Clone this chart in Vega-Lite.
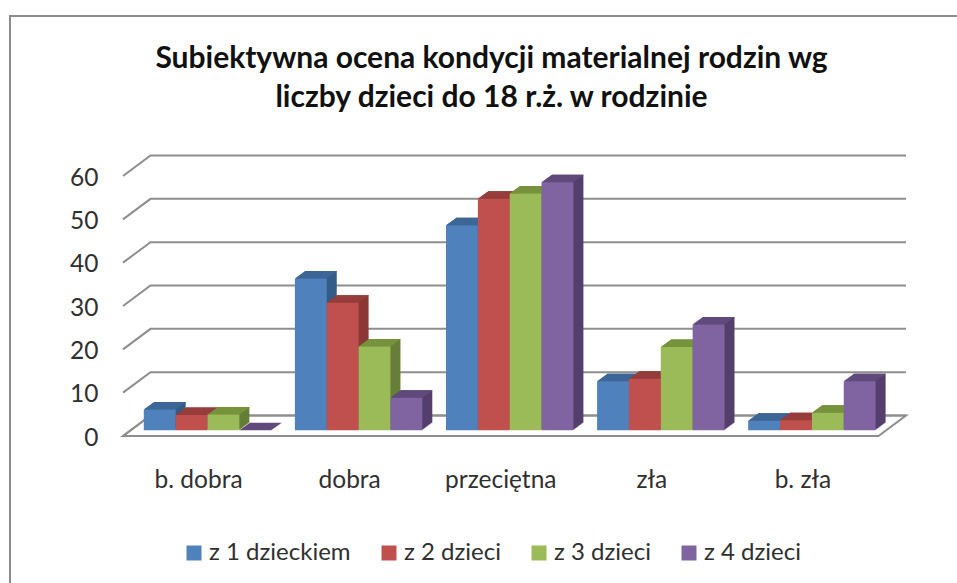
{"$schema":"https://vega.github.io/schema/vega-lite/v6.json","width":957,"height":577,"autosize":{"type":"none"},"padding":{"left":10,"top":16,"right":-10,"bottom":-10},"background":"white","config":{"view":{"stroke":"#8c8c8c","strokeWidth":2},"font":"Lato"},"title":{"text":["Subiektywna ocena kondycji materialnej rodzin wg","liczby dzieci do 18 r.ż. w rodzinie"],"font":"Lato","fontSize":30,"fontWeight":"bold","color":"#111111","lineHeight":39,"anchor":"middle","dx":3,"offset":-97},"datasets":{"ticks":[{"tick":0},{"tick":10},{"tick":20},{"tick":30},{"tick":40},{"tick":50},{"tick":60}],"floor":[{"tick":0}],"bars":[{"ocena":"b. dobra","grupa":"z 1 dzieckiem","procent":4.8},{"ocena":"b. dobra","grupa":"z 2 dzieci","procent":3.5},{"ocena":"b. dobra","grupa":"z 3 dzieci","procent":3.6},{"ocena":"b. dobra","grupa":"z 4 dzieci","procent":0},{"ocena":"dobra","grupa":"z 1 dzieckiem","procent":35},{"ocena":"dobra","grupa":"z 2 dzieci","procent":29.4},{"ocena":"dobra","grupa":"z 3 dzieci","procent":19.3},{"ocena":"dobra","grupa":"z 4 dzieci","procent":7.5},{"ocena":"przeciętna","grupa":"z 1 dzieckiem","procent":47.3},{"ocena":"przeciętna","grupa":"z 2 dzieci","procent":53.4},{"ocena":"przeciętna","grupa":"z 3 dzieci","procent":54.6},{"ocena":"przeciętna","grupa":"z 4 dzieci","procent":57.2},{"ocena":"zła","grupa":"z 1 dzieckiem","procent":11.3},{"ocena":"zła","grupa":"z 2 dzieci","procent":11.9},{"ocena":"zła","grupa":"z 3 dzieci","procent":19.2},{"ocena":"zła","grupa":"z 4 dzieci","procent":24.4},{"ocena":"b. zła","grupa":"z 1 dzieckiem","procent":2.2},{"ocena":"b. zła","grupa":"z 2 dzieci","procent":2.3},{"ocena":"b. zła","grupa":"z 3 dzieci","procent":4},{"ocena":"b. zła","grupa":"z 4 dzieci","procent":11.3}]},"data":{"name":"bars"},"encoding":{"x":{"field":"ocena","type":"nominal","sort":null,"title":null,"scale":{"domain":["b. dobra","dobra","przeciętna","zła","b. zła"],"range":[113,868.5],"paddingInner":0,"paddingOuter":0},"axis":{"orient":"bottom","offset":-125,"domain":false,"ticks":false,"labelAngle":0,"labelFont":"Lato","labelFontSize":24.5,"labelColor":"#303030","labelPadding":0,"labelBaseline":"top","grid":false}},"y":{"field":"procent","type":"quantitative","title":null,"scale":{"domain":[0,60],"range":[420,160],"nice":false},"axis":{"orient":"left","offset":-88,"values":[0,10,20,30,40,50,60],"domain":false,"ticks":false,"grid":false,"labelFont":"Lato","labelFontSize":24.5,"labelColor":"#303030","labelPadding":0,"labelOffset":2}}},"layer":[{"data":{"name":"floor"},"mark":{"type":"point","shape":"M0,0L27.5,-20.5L783,-20.5L755.5,0Z","size":4,"filled":false,"fill":"white","fillOpacity":1,"stroke":"#8e8e8e","strokeWidth":2,"opacity":1},"encoding":{"x":{"datum":"b. dobra","bandPosition":0},"y":{"field":"tick","type":"quantitative"}}},{"data":{"name":"ticks"},"mark":{"type":"point","shape":"M0,0L27.5,-20.5L783,-20.5","size":4,"filled":false,"stroke":"#8e8e8e","strokeWidth":2,"opacity":1},"encoding":{"x":{"datum":"b. dobra","bandPosition":0},"y":{"field":"tick","type":"quantitative"}}},{"mark":{"type":"bar","yOffset":-13.3,"y2Offset":-13.3},"encoding":{"xOffset":{"field":"grupa","type":"nominal","sort":null,"scale":{"range":[30.8,158.2],"paddingInner":0,"paddingOuter":0}},"color":{"field":"grupa","type":"nominal","sort":null,"legend":null,"scale":{"domain":["z 1 dzieckiem","z 2 dzieci","z 3 dzieci","z 4 dzieci"],"range":["#345c88","#8b3836","#667f38","#543f6d"]}}}},{"mark":{"type":"bar","yOffset":-12.55,"y2Offset":-12.55},"encoding":{"xOffset":{"field":"grupa","type":"nominal","sort":null,"scale":{"range":[29.8,157.2],"paddingInner":0,"paddingOuter":0}},"color":{"field":"grupa","type":"nominal","sort":null,"legend":null,"scale":{"domain":["z 1 dzieckiem","z 2 dzieci","z 3 dzieci","z 4 dzieci"],"range":["#345c88","#8b3836","#667f38","#543f6d"]}}}},{"mark":{"type":"bar","yOffset":-11.8,"y2Offset":-11.8},"encoding":{"xOffset":{"field":"grupa","type":"nominal","sort":null,"scale":{"range":[28.8,156.2],"paddingInner":0,"paddingOuter":0}},"color":{"field":"grupa","type":"nominal","sort":null,"legend":null,"scale":{"domain":["z 1 dzieckiem","z 2 dzieci","z 3 dzieci","z 4 dzieci"],"range":["#345c88","#8b3836","#667f38","#543f6d"]}}}},{"mark":{"type":"bar","yOffset":-11.05,"y2Offset":-11.05},"encoding":{"xOffset":{"field":"grupa","type":"nominal","sort":null,"scale":{"range":[27.8,155.2],"paddingInner":0,"paddingOuter":0}},"color":{"field":"grupa","type":"nominal","sort":null,"legend":null,"scale":{"domain":["z 1 dzieckiem","z 2 dzieci","z 3 dzieci","z 4 dzieci"],"range":["#345c88","#8b3836","#667f38","#543f6d"]}}}},{"mark":{"type":"bar","yOffset":-10.3,"y2Offset":-10.3},"encoding":{"xOffset":{"field":"grupa","type":"nominal","sort":null,"scale":{"range":[26.8,154.2],"paddingInner":0,"paddingOuter":0}},"color":{"field":"grupa","type":"nominal","sort":null,"legend":null,"scale":{"domain":["z 1 dzieckiem","z 2 dzieci","z 3 dzieci","z 4 dzieci"],"range":["#345c88","#8b3836","#667f38","#543f6d"]}}}},{"mark":{"type":"bar","yOffset":-9.55,"y2Offset":-9.55},"encoding":{"xOffset":{"field":"grupa","type":"nominal","sort":null,"scale":{"range":[25.8,153.2],"paddingInner":0,"paddingOuter":0}},"color":{"field":"grupa","type":"nominal","sort":null,"legend":null,"scale":{"domain":["z 1 dzieckiem","z 2 dzieci","z 3 dzieci","z 4 dzieci"],"range":["#345c88","#8b3836","#667f38","#543f6d"]}}}},{"mark":{"type":"bar","yOffset":-8.8,"y2Offset":-8.8},"encoding":{"xOffset":{"field":"grupa","type":"nominal","sort":null,"scale":{"range":[24.8,152.2],"paddingInner":0,"paddingOuter":0}},"color":{"field":"grupa","type":"nominal","sort":null,"legend":null,"scale":{"domain":["z 1 dzieckiem","z 2 dzieci","z 3 dzieci","z 4 dzieci"],"range":["#345c88","#8b3836","#667f38","#543f6d"]}}}},{"mark":{"type":"bar","yOffset":-8.05,"y2Offset":-8.05},"encoding":{"xOffset":{"field":"grupa","type":"nominal","sort":null,"scale":{"range":[23.8,151.2],"paddingInner":0,"paddingOuter":0}},"color":{"field":"grupa","type":"nominal","sort":null,"legend":null,"scale":{"domain":["z 1 dzieckiem","z 2 dzieci","z 3 dzieci","z 4 dzieci"],"range":["#345c88","#8b3836","#667f38","#543f6d"]}}}},{"mark":{"type":"bar","yOffset":-7.3,"y2Offset":-7.3},"encoding":{"xOffset":{"field":"grupa","type":"nominal","sort":null,"scale":{"range":[22.8,150.2],"paddingInner":0,"paddingOuter":0}},"color":{"field":"grupa","type":"nominal","sort":null,"legend":null,"scale":{"domain":["z 1 dzieckiem","z 2 dzieci","z 3 dzieci","z 4 dzieci"],"range":["#345c88","#8b3836","#667f38","#543f6d"]}}}},{"mark":{"type":"bar","yOffset":-6.55,"y2Offset":-6.55},"encoding":{"xOffset":{"field":"grupa","type":"nominal","sort":null,"scale":{"range":[21.8,149.2],"paddingInner":0,"paddingOuter":0}},"color":{"field":"grupa","type":"nominal","sort":null,"legend":null,"scale":{"domain":["z 1 dzieckiem","z 2 dzieci","z 3 dzieci","z 4 dzieci"],"range":["#345c88","#8b3836","#667f38","#543f6d"]}}}},{"mark":{"type":"point","shape":"M-15.9,0L15.9,0L26.4,-7.5L-5.4,-7.5Z","size":4,"filled":true,"opacity":1,"yOffset":-5.8},"encoding":{"xOffset":{"field":"grupa","type":"nominal","sort":null,"scale":{"range":[36.7,132.3],"padding":0}},"color":{"field":"grupa","type":"nominal","sort":null,"legend":null,"scale":{"domain":["z 1 dzieckiem","z 2 dzieci","z 3 dzieci","z 4 dzieci"],"range":["#3c6695","#963c3a","#76923b","#604a7b"]}}}},{"mark":{"type":"bar","yOffset":-5.8,"y2Offset":-5.8},"encoding":{"xOffset":{"field":"grupa","type":"nominal","sort":null,"scale":{"range":[20.8,148.2],"paddingInner":0,"paddingOuter":0}},"color":{"field":"grupa","type":"nominal","sort":null,"title":null,"scale":{"domain":["z 1 dzieckiem","z 2 dzieci","z 3 dzieci","z 4 dzieci"],"range":["#4f81bd","#c0504d","#9bbb59","#8064a2"]},"legend":{"orient":"none","legendX":172,"legendY":525,"direction":"horizontal","columns":4,"columnPadding":26,"symbolType":"square","symbolSize":225,"symbolStrokeWidth":0,"symbolOpacity":1,"labelFont":"Lato","labelFontSize":24,"labelColor":"#303030","labelOffset":3}}}}],"resolve":{"scale":{"xOffset":"independent","color":"independent"}}}
